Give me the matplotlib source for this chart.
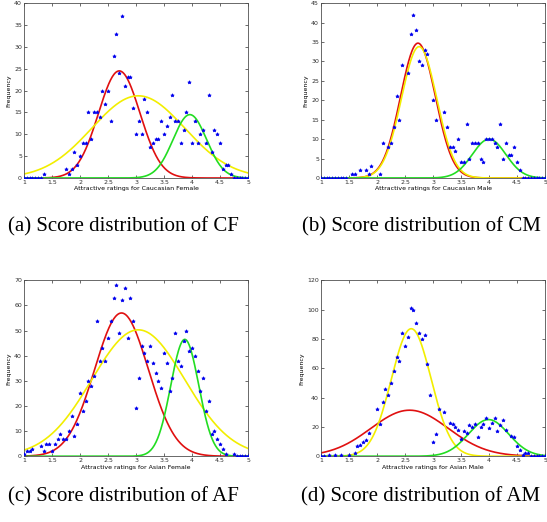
import numpy as np
import matplotlib
matplotlib.use("Agg")
import matplotlib.pyplot as plt

RED = "#e01010"
YELLOW = "#f2ee00"
GREEN = "#22dd22"
BLUE = "#0000ee"

plt.rcParams.update({
    "font.family": "DejaVu Sans",
    "font.size": 4.5,
    "axes.edgecolor": "#505050",
    "axes.linewidth": 0.6,
    "xtick.direction": "in",
    "ytick.direction": "in",
    "xtick.top": True,
    "ytick.right": True,
    "xtick.major.size": 2.5,
    "ytick.major.size": 2.5,
    "xtick.major.width": 0.5,
    "ytick.major.width": 0.5,
    "xtick.major.pad": 1.5,
    "ytick.major.pad": 1.5,
    "xtick.color": "#303030",
    "ytick.color": "#303030",
})

# ---- (a) Caucasian Female ----
cf_x = [1.0, 1.05, 1.1, 1.15, 1.2, 1.25, 1.3, 1.35, 1.75, 1.8, 1.85, 1.9, 1.95, 2.0,
        2.05, 2.1, 2.15, 2.2, 2.25, 2.3, 2.35, 2.4, 2.45, 2.5, 2.55, 2.6, 2.65, 2.7,
        2.75, 2.8, 2.85, 2.9, 2.95, 3.0, 3.05, 3.1, 3.15, 3.2, 3.25, 3.3, 3.35, 3.4,
        3.45, 3.5, 3.55, 3.6, 3.65, 3.7, 3.75, 3.8, 3.85, 3.9, 3.95, 4.0, 4.05, 4.1,
        4.15, 4.2, 4.25, 4.3, 4.35, 4.4, 4.45, 4.5, 4.55, 4.6, 4.65, 4.7, 4.75, 4.8,
        4.85, 4.9, 4.95, 5.0]
cf_y = [0, 0, 0, 0, 0, 0, 0, 1, 2, 1, 2, 6, 3, 5,
        8, 8, 15, 9, 15, 15, 14, 20, 17, 20, 13, 28, 33, 24,
        37, 21, 23, 23, 16, 10, 13, 10, 18, 15, 7, 8, 9, 9,
        13, 10, 12, 14, 19, 13, 13, 8, 11, 15, 22, 8, 13, 8,
        10, 11, 8, 19, 6, 11, 10, 8, 2, 3, 3, 1, 0, 0,
        0, 0, 0, 0]

# ---- (b) Caucasian Male ----
cm_x = [1.0, 1.05, 1.1, 1.15, 1.2, 1.25, 1.3, 1.35, 1.4, 1.45, 1.55, 1.6, 1.7, 1.8,
        1.85, 1.9, 2.05, 2.1, 2.2, 2.25, 2.3, 2.35, 2.4, 2.45, 2.55, 2.6, 2.65, 2.7,
        2.75, 2.8, 2.85, 2.9, 3.0, 3.05, 3.2, 3.25, 3.3, 3.35, 3.4, 3.45, 3.5, 3.55,
        3.6, 3.65, 3.7, 3.75, 3.8, 3.85, 3.9, 3.95, 4.0, 4.05, 4.1, 4.15, 4.2, 4.25,
        4.3, 4.35, 4.4, 4.45, 4.5, 4.55, 4.6, 4.65, 4.7, 4.75, 4.8, 4.85, 4.9, 4.95, 5.0]
cm_y = [0, 0, 0, 0, 0, 0, 0, 0, 0, 0, 1, 1, 2, 2,
        1, 3, 1, 9, 8, 9, 13, 21, 15, 29, 27, 37, 42, 38,
        30, 29, 33, 32, 20, 15, 17, 13, 8, 8, 7, 10, 4, 4,
        14, 5, 9, 9, 9, 5, 4, 10, 10, 10, 9, 8, 14, 5,
        9, 6, 6, 8, 4, 2, 0, 0, 0, 0, 0, 0, 0, 0, 0]

# ---- (c) Asian Female ----
af_x = [1.0, 1.05, 1.1, 1.15, 1.3, 1.35, 1.4, 1.45, 1.5, 1.55, 1.6, 1.65, 1.7, 1.75,
        1.8, 1.85, 1.9, 1.95, 2.0, 2.05, 2.1, 2.15, 2.2, 2.25, 2.3, 2.35, 2.4, 2.45,
        2.5, 2.55, 2.6, 2.65, 2.7, 2.75, 2.8, 2.85, 2.9, 2.95, 3.0, 3.05, 3.1, 3.15,
        3.2, 3.25, 3.3, 3.35, 3.4, 3.45, 3.5, 3.55, 3.6, 3.65, 3.7, 3.75, 3.8, 3.85,
        3.9, 3.95, 4.0, 4.05, 4.1, 4.15, 4.2, 4.25, 4.3, 4.35, 4.4, 4.45, 4.5, 4.55,
        4.6, 4.75, 4.8, 4.85, 4.9, 4.95, 5.0]
af_y = [1, 2, 2, 3, 4, 2, 5, 5, 2, 5, 7, 9, 7, 7,
        10, 16, 8, 13, 25, 18, 22, 30, 28, 32, 54, 38, 43, 38,
        47, 54, 63, 68, 49, 62, 67, 47, 63, 54, 19, 31, 44, 41,
        38, 44, 37, 33, 30, 27, 41, 37, 26, 31, 49, 38, 36, 46,
        50, 42, 43, 40, 34, 26, 31, 18, 22, 9, 10, 7, 5, 3,
        1, 1, 0, 0, 0, 0, 0]

# ---- (d) Asian Male ----
am_x = [1.0, 1.05, 1.15, 1.25, 1.35, 1.5, 1.6, 1.65, 1.7, 1.75, 1.8, 1.85, 2.0, 2.05,
        2.1, 2.15, 2.2, 2.25, 2.3, 2.35, 2.4, 2.45, 2.5, 2.55, 2.6, 2.65, 2.7, 2.75,
        2.8, 2.85, 2.9, 2.95, 3.0, 3.05, 3.1, 3.2, 3.3, 3.35, 3.4, 3.45, 3.5, 3.55,
        3.6, 3.65, 3.7, 3.75, 3.8, 3.85, 3.9, 3.95, 4.0, 4.05, 4.1, 4.15, 4.2, 4.25,
        4.3, 4.4, 4.45, 4.5, 4.55, 4.6, 4.65, 4.7, 4.75, 4.8, 4.85, 4.9, 4.95, 5.0]
am_y = [0, 0, 1, 1, 1, 1, 2, 7, 8, 10, 11, 16, 32, 22,
        37, 46, 42, 50, 58, 68, 65, 84, 75, 81, 101, 100, 91, 84,
        80, 83, 63, 42, 10, 15, 32, 30, 23, 22, 20, 18, 12, 17,
        16, 21, 20, 22, 13, 20, 22, 26, 19, 23, 26, 17, 21, 25,
        18, 14, 13, 7, 4, 1, 2, 2, 0, 0, 0, 0, 0, 0]

# fitted gaussian components: (peak, mean, sigma) for red, yellow, green
cf_fit = [(24.5, 2.70, 0.37), (18.8, 3.04, 0.83), (14.5, 3.96, 0.30)]
cm_fit = [(34.7, 2.73, 0.31), (33.8, 2.75, 0.315), (10.0, 4.00, 0.30)]
af_fit = [(57.0, 2.74, 0.48), (50.3, 3.04, 0.83), (46.5, 3.87, 0.25)]
am_fit = [(31.4, 2.58, 0.69), (87.0, 2.61, 0.355), (25.0, 3.99, 0.36)]

panels = [
    ("Attractive ratings for Caucasian Female", cf_x, cf_y, cf_fit, 40, 5,
     [0.044, 0.659, 0.4095, 0.335], "(a) Score distribution of CF", (0.015, 0.565)),
    ("Attractive ratings for Caucasian Male", cm_x, cm_y, cm_fit, 45, 5,
     [0.587, 0.659, 0.4095, 0.335], "(b) Score distribution of CM", (0.553, 0.565)),
    ("Attractive ratings for Asian Female", af_x, af_y, af_fit, 70, 10,
     [0.044, 0.126, 0.4095, 0.337], "(c) Score distribution of AF", (0.015, 0.048)),
    ("Attractive ratings for Asian Male", am_x, am_y, am_fit, 120, 20,
     [0.587, 0.126, 0.4095, 0.337], "(d) Score distribution of AM", (0.551, 0.048)),
]

fig = plt.figure(figsize=(5.47, 5.22), dpi=100)
grid = np.linspace(1, 5, 400)
for xlabel, xs, ys, fit, ymax, ystep, pos, caption, cpos in panels:
    ax = fig.add_axes(pos)
    for (a, mu, s), col in zip(fit, [RED, YELLOW, GREEN]):
        ax.plot(grid, a * np.exp(-(grid - mu) ** 2 / (2 * s ** 2)), color=col, lw=1.2)
    ax.plot(xs, ys, ls="none", marker="*", ms=2.6, mew=0.5, color=BLUE, zorder=3)
    ax.set_xlim(1, 5)
    ax.set_ylim(0, ymax)
    ax.set_xticks(np.arange(1, 5.01, 0.5))
    ax.set_xticklabels(["1", "1.5", "2", "2.5", "3", "3.5", "4", "4.5", "5"])
    ax.set_yticks(np.arange(0, ymax + 0.1, ystep))
    ax.set_xlabel(xlabel, fontsize=4.5, labelpad=1)
    ax.set_ylabel("Frequency", fontsize=4.5, labelpad=2)
    fig.text(cpos[0], cpos[1], caption, fontsize=15, family="Liberation Serif",
             ha="left", va="center")

fig.savefig("out.png", dpi=100)
